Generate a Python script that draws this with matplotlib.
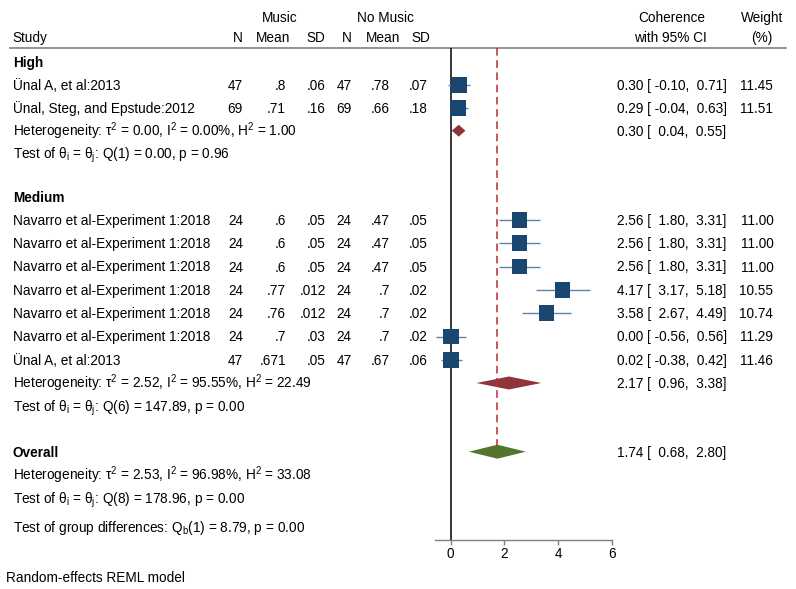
import matplotlib
matplotlib.use("Agg")
import matplotlib.pyplot as plt
import numpy as np

plt.rcParams['font.family'] = ['Liberation Sans', 'DejaVu Sans']
plt.rcParams['mathtext.fontset'] = 'custom'
plt.rcParams['mathtext.rm'] = 'Liberation Sans'
plt.rcParams['mathtext.it'] = 'Liberation Sans:italic'
plt.rcParams['mathtext.default'] = 'rm'

# data
high_names = ["Ünal A, et al:2013", "Ünal, Steg, and Epstude:2012"]
high_n1 = ["47", "69"]
high_m1 = [".8", ".71"]
high_sd1 = [".06", ".16"]
high_n2 = ["47", "69"]
high_m2 = [".78", ".66"]
high_sd2 = [".07", ".18"]
high_es = [0.30, 0.29]
high_lo = [-0.10, -0.04]
high_hi = [0.71, 0.63]
high_w = [11.45, 11.51]

med_names = ["Navarro et al-Experiment 1:2018"] * 6 + ["Ünal A, et al:2013"]
med_n1 = ["24", "24", "24", "24", "24", "24", "47"]
med_m1 = [".6", ".6", ".6", ".77", ".76", ".7", ".671"]
med_sd1 = [".05", ".05", ".05", ".012", ".012", ".03", ".05"]
med_n2 = ["24", "24", "24", "24", "24", "24", "47"]
med_m2 = [".47", ".47", ".47", ".7", ".7", ".7", ".67"]
med_sd2 = [".05", ".05", ".05", ".02", ".02", ".02", ".06"]
med_es = [2.56, 2.56, 2.56, 4.17, 3.58, 0.00, 0.02]
med_lo = [1.80, 1.80, 1.80, 3.17, 2.67, -0.56, -0.38]
med_hi = [3.31, 3.31, 3.31, 5.18, 4.49, 0.56, 0.42]
med_w = [11.00, 11.00, 11.00, 10.55, 10.74, 11.29, 11.46]

high_pool = (0.30, 0.04, 0.55)
med_pool = (2.17, 0.96, 3.38)
overall_pool = (1.74, 0.68, 2.80)

high_het = r"Heterogeneity: τ$^2$ = 0.00, I$^2$ = 0.00%, H$^2$ = 1.00"
high_test = r"Test of θ$_\mathrm{i}$ = θ$_\mathrm{j}$: Q(1) = 0.00, p = 0.96"
med_het = r"Heterogeneity: τ$^2$ = 2.52, I$^2$ = 95.55%, H$^2$ = 22.49"
med_test = r"Test of θ$_\mathrm{i}$ = θ$_\mathrm{j}$: Q(6) = 147.89, p = 0.00"
all_het = r"Heterogeneity: τ$^2$ = 2.53, I$^2$ = 96.98%, H$^2$ = 33.08"
all_test = r"Test of θ$_\mathrm{i}$ = θ$_\mathrm{j}$: Q(8) = 178.96, p = 0.00"
grp_test = r"Test of group differences: Q$_\mathrm{b}$(1) = 8.79, p = 0.00"

xticks = [0, 2, 4, 6]

# colours
NAVY = '#1a476f'
CI_COL = '#5f83a6'
MAROON = '#90353b'
GREEN = '#55752f'
RED = '#c0272d'
FS = 9.8

W, H = 796, 589
fig = plt.figure(figsize=(W / 100, H / 100), dpi=100)
ax = fig.add_axes([0, 0, 1, 1])
ax.set_xlim(0, W)
ax.set_ylim(H, 0)
ax.axis('off')


def txt(x, y, s, ha='left', bold=False):
    ax.text(x, y + 4.9, s, ha=ha, va='baseline', fontsize=FS,
            fontweight='bold' if bold else 'normal', color='black')


# layout (pixel rows)
STEP = 23.3
y_top_line = 47.5
y_axis = 540
y_high = 61.7
y_high_rows = [y_high + STEP * (i + 1) for i in range(len(high_names))]
y_high_het = 130.7
y_high_test = 154
y_med = 196.7
y_med_rows = [y_med + STEP * (i + 1) for i in range(len(med_names))]
y_med_het = 383
y_med_test = 406.5
y_all = 451.7
y_all_het = 475
y_all_test = 498.3
y_grp = 527.5

# header
txt(280, 17, "Music", ha='center')
txt(385, 17, "No Music", ha='center')
txt(12.7, 37, "Study")
for xx, s in zip([242.7, 290, 325, 351.7, 400, 430], ["N", "Mean", "SD", "N", "Mean", "SD"]):
    txt(xx, 37, s, ha='right')
txt(671.7, 17, "Coherence", ha='center')
txt(670, 37, "with 95% CI", ha='center')
txt(761.7, 17, "Weight", ha='center')
txt(761.7, 37, "(%)", ha='center')
ax.plot([10, 786], [y_top_line, y_top_line], color='#808080', lw=1.2)

cols_x = [243, 286, 326, 351.7, 390, 427.5]


def ci_str(es, lo, hi):
    return f"{es:.2f} [{lo:6.2f}, {hi:5.2f}]"


def study_block(ys, names, n1, m1, sd1, n2, m2, sd2, es, lo, hi, w):
    for i, y in enumerate(ys):
        txt(12.7, y, names[i])
        for xx, v in zip(cols_x, [n1[i], m1[i], sd1[i], n2[i], m2[i], sd2[i]]):
            txt(xx, y, v, ha='right')
        txt(616.7, y, ci_str(es[i], lo[i], hi[i]))
        txt(773.3, y, f"{w[i]:.2f}", ha='right')


txt(12.7, y_high, "High", bold=True)
study_block(y_high_rows, high_names, high_n1, high_m1, high_sd1, high_n2, high_m2,
            high_sd2, high_es, high_lo, high_hi, high_w)
txt(12.7, y_high_het, high_het)
txt(616.7, y_high_het, ci_str(*high_pool))
txt(12.7, y_high_test, high_test)

txt(12.7, y_med, "Medium", bold=True)
study_block(y_med_rows, med_names, med_n1, med_m1, med_sd1, med_n2, med_m2,
            med_sd2, med_es, med_lo, med_hi, med_w)
txt(12.7, y_med_het, med_het)
txt(616.7, y_med_het, ci_str(*med_pool))
txt(12.7, y_med_test, med_test)

txt(12.7, y_all, "Overall", bold=True)
txt(616.7, y_all, ci_str(*overall_pool))
txt(12.7, y_all_het, all_het)
txt(12.7, y_all_test, all_test)
txt(12.7, y_grp, grp_test)
txt(6, 577, "Random-effects REML model")

# forest panel
px_per_unit = 26.83
x0_px = 450.7
x_left_px, x_right_px = 435, 611.7
axp = fig.add_axes([x_left_px / W, (H - y_axis) / H,
                    (x_right_px - x_left_px) / W, (y_axis - y_top_line) / H])
axp.set_xlim((x_left_px - x0_px) / px_per_unit, (x_right_px - x0_px) / px_per_unit)
axp.set_ylim(y_axis, y_top_line)
axp.patch.set_alpha(0)
for sp in ['top', 'right', 'left']:
    axp.spines[sp].set_visible(False)
axp.spines['bottom'].set_color('#808080')
axp.spines['bottom'].set_linewidth(1.0)
axp.set_yticks([])
axp.set_xticks(xticks)
axp.tick_params(axis='x', direction='out', length=3.5, width=1.0, color='#808080',
                labelsize=FS, pad=1.5)

axp.axvline(0, color='black', lw=1.1, zorder=2)
axp.plot([overall_pool[0]] * 2, [y_top_line, y_all - 7], color=RED, lw=1.1,
         ls=(0, (5, 3)), zorder=6, clip_on=False)

all_y = y_high_rows + y_med_rows
all_es = high_es + med_es
all_lo = high_lo + med_lo
all_hi = high_hi + med_hi
all_w = high_w + med_w
axp.hlines(all_y, all_lo, all_hi, color=CI_COL, lw=1.0, zorder=3)
axp.scatter(all_es, all_y, s=np.array(all_w) * 11.5, marker='s', color=NAVY,
            zorder=4, linewidths=0, clip_on=False)


def diamond(pool, y, col, h=6.5):
    es, lo, hi = pool
    axp.fill([lo, es, hi, es], [y, y - h, y, y + h], color=col, lw=0, zorder=5)


diamond(high_pool, y_high_het, MAROON, h=6)
diamond(med_pool, y_med_het, MAROON)
diamond(overall_pool, y_all, GREEN, h=7)

fig.savefig("out.png", dpi=100)
